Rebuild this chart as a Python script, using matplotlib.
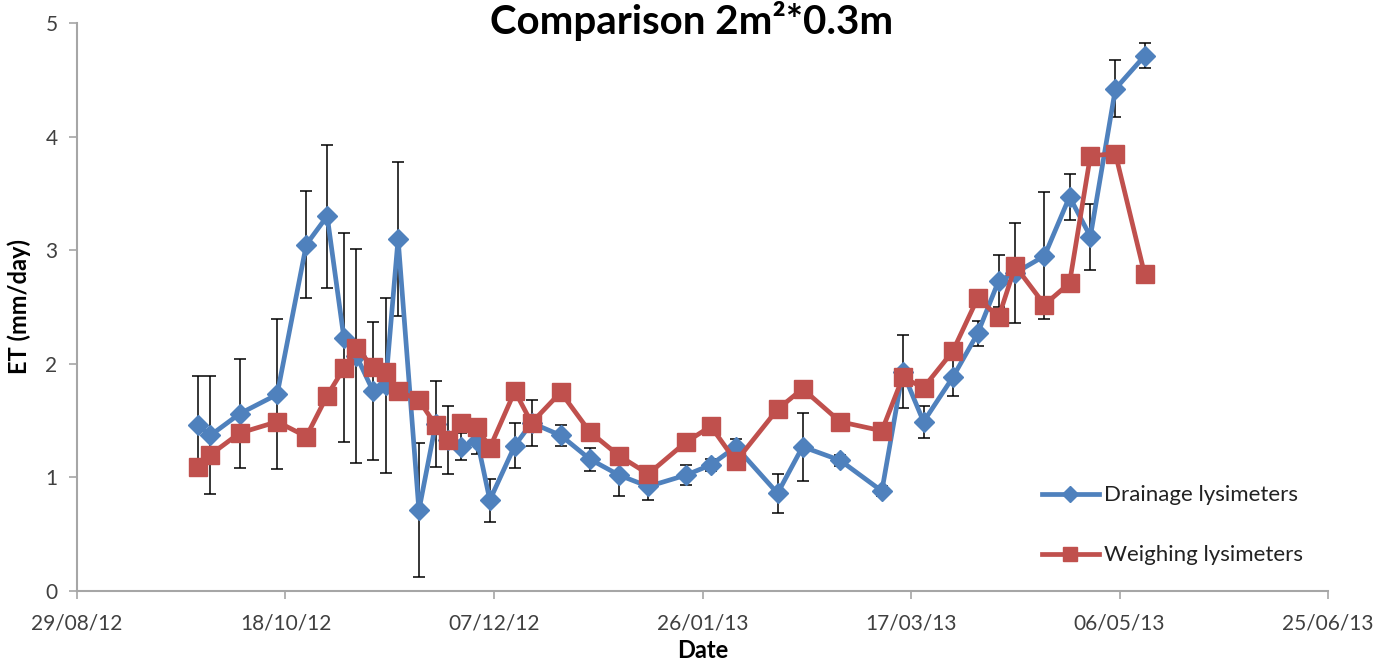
import matplotlib
matplotlib.use('Agg')
import matplotlib.pyplot as plt
import matplotlib.dates as mdates
import pandas as pd

# sampling dates (dd/mm/yy)
dates = ['27/09/12', '30/09/12', '07/10/12', '16/10/12', '23/10/12', '28/10/12', '01/11/12',
         '04/11/12', '08/11/12', '11/11/12', '14/11/12', '19/11/12', '23/11/12', '26/11/12',
         '29/11/12', '03/12/12', '06/12/12', '12/12/12', '16/12/12', '23/12/12', '30/12/12',
         '06/01/13', '13/01/13', '22/01/13', '28/01/13', '03/02/13', '13/02/13', '19/02/13',
         '28/02/13', '10/03/13', '15/03/13', '20/03/13', '27/03/13', '02/04/13', '07/04/13',
         '11/04/13', '18/04/13', '24/04/13', '29/04/13', '05/05/13', '12/05/13']

drainage = [1.46, 1.37, 1.56, 1.73, 3.05, 3.30, 2.23, 2.07, 1.76, 1.81, 3.10, 0.71, 1.47, 1.33,
            1.27, 1.32, 0.80, 1.28, 1.48, 1.37, 1.16, 1.02, 0.92, 1.02, 1.11, 1.27, 0.86, 1.27,
            1.15, 0.88, 1.93, 1.49, 1.88, 2.27, 2.73, 2.80, 2.95, 3.47, 3.12, 4.42, 4.71]

drainage_err = [0.43, 0.52, 0.48, 0.66, 0.47, 0.63, 0.92, 0.94, 0.61, 0.77, 0.68, 0.59, 0.38, 0.30,
                0.12, 0.11, 0.19, 0.20, 0.20, 0.09, 0.10, 0.18, 0.12, 0.09, 0.05, 0.07, 0.17, 0.30,
                0.05, 0.04, 0.32, 0.14, 0.16, 0.11, 0.23, 0.44, 0.56, 0.20, 0.29, 0.25, 0.11]

weighing = [1.09, 1.20, 1.39, 1.49, 1.36, 1.72, 1.96, 2.14, 1.97, 1.93, 1.76, 1.68, 1.46, 1.33,
            1.48, 1.44, 1.26, 1.76, 1.48, 1.75, 1.40, 1.19, 1.03, 1.31, 1.45, 1.14, 1.60, 1.78,
            1.49, 1.41, 1.88, 1.79, 2.11, 2.58, 2.41, 2.86, 2.52, 2.71, 3.83, 3.85, 2.79]

x_start, x_end = '29/08/12', '25/06/13'
tick_step = '50D'

BLUE = '#4F81BD'
RED = '#C0504D'
AXIS_GREY = '#A6A6A6'

plt.rcParams['font.family'] = ['Lato', 'DejaVu Sans']

x = pd.to_datetime(dates, format='%d/%m/%y')
t0 = pd.to_datetime(x_start, format='%d/%m/%y')
t1 = pd.to_datetime(x_end, format='%d/%m/%y')
xticks = pd.date_range(t0, t1, freq=tick_step)

fig = plt.figure(figsize=(13.84, 6.70), dpi=100)
ax = fig.add_axes([0.0556, 0.1179, 0.9040, 0.8478])

ax.errorbar(x, drainage, yerr=drainage_err, fmt='none', ecolor='black', elinewidth=1.1,
            capsize=4.5, capthick=1.1, zorder=2)
ax.plot(x, drainage, color=BLUE, lw=3.4, marker='D', ms=10.5, label='Drainage lysimeters', zorder=3)
ax.plot(x, weighing, color=RED, lw=3.4, marker='s', ms=13.5, label='Weighing lysimeters', zorder=4)

ax.set_xlim(t0, t1)
ax.set_ylim(0, 5)
ax.set_xticks(xticks)
ax.xaxis.set_major_formatter(mdates.DateFormatter('%d/%m/%y'))
ax.set_yticks(range(0, 6))

for side in ['top', 'right']:
    ax.spines[side].set_visible(False)
for side in ['left', 'bottom']:
    ax.spines[side].set_color(AXIS_GREY)
    ax.spines[side].set_linewidth(1.5)
ax.tick_params(axis='both', direction='out', length=6, width=1.2, color=AXIS_GREY,
               labelsize=15, labelcolor='#404040', pad=10)
ax.tick_params(axis='y', pad=8)

ax.set_xlabel('Date', fontsize=17, fontweight='bold', labelpad=4)
ax.set_ylabel('ET (mm/day)', fontsize=17, fontweight='bold', labelpad=10)
fig.text(0.5, 0.999, 'Comparison 2m\u00b2*0.3m', ha='center', va='top', fontsize=29,
         fontweight='bold')

leg = ax.legend(loc='lower left', bbox_to_anchor=(0.755, 0.01), frameon=False, fontsize=16,
                handlelength=2.6, labelspacing=1.8, markerscale=0.75, handletextpad=0.2)
for t in leg.get_texts():
    t.set_color('#222222')

fig.savefig('out.png', dpi=100)
